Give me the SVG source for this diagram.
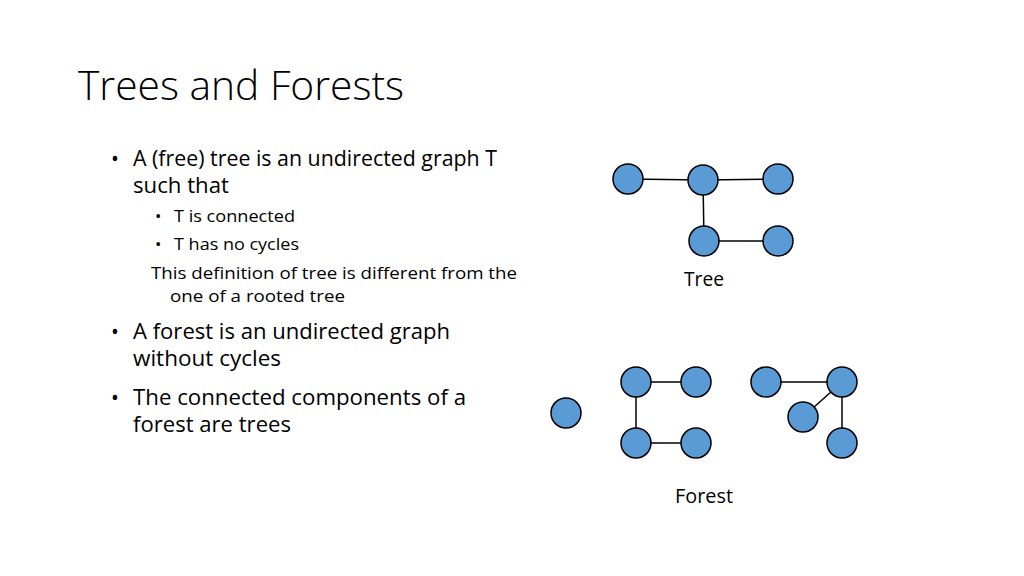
<svg xmlns="http://www.w3.org/2000/svg" width="1024" height="576" viewBox="0 0 1024 576">
<style>
text{font-family:"Open Sans","Liberation Sans",sans-serif;fill:#000}
.b{font-size:21px}.s{font-size:17px}
.n{fill:#5B9BD5;stroke:#000;stroke-width:1.5}
#edges line{stroke:#000;stroke-width:1.5}
</style>
<rect width="1024" height="576" fill="#fff"/>
<text x="78" y="100" font-size="40" font-weight="300" textLength="326" lengthAdjust="spacingAndGlyphs">Trees and Forests</text>
<text class="b" x="111" y="166">•</text>
<text class="b" x="133" y="166" textLength="364" lengthAdjust="spacingAndGlyphs">A (free) tree is an undirected graph T</text>
<text class="b" x="133" y="193" textLength="96" lengthAdjust="spacingAndGlyphs">such that</text>
<text class="s" x="155" y="222">•</text>
<text class="s" x="174" y="222" textLength="121" lengthAdjust="spacingAndGlyphs">T is connected</text>
<text class="s" x="155" y="250">•</text>
<text class="s" x="174" y="250" textLength="125" lengthAdjust="spacingAndGlyphs">T has no cycles</text>
<text class="s" x="151" y="279" textLength="366" lengthAdjust="spacingAndGlyphs">This definition of tree is different from the</text>
<text class="s" x="170" y="302" textLength="175" lengthAdjust="spacingAndGlyphs">one of a rooted tree</text>
<text class="b" x="111" y="339">•</text>
<text class="b" x="133" y="339" textLength="317" lengthAdjust="spacingAndGlyphs">A forest is an undirected graph</text>
<text class="b" x="133" y="366" textLength="148" lengthAdjust="spacingAndGlyphs">without cycles</text>
<text class="b" x="111" y="405">•</text>
<text class="b" x="133" y="405" textLength="333" lengthAdjust="spacingAndGlyphs">The connected components of a</text>
<text class="b" x="133" y="432" textLength="158" lengthAdjust="spacingAndGlyphs">forest are trees</text>
<text x="684" y="286" font-size="20" textLength="40" lengthAdjust="spacingAndGlyphs">Tree</text>
<text x="675" y="503" font-size="20" textLength="58" lengthAdjust="spacingAndGlyphs">Forest</text>
<g id="edges">
<line x1="628" y1="179" x2="703" y2="180"/><line x1="703" y1="180" x2="778" y2="179"/>
<line x1="703" y1="180" x2="704" y2="241"/><line x1="704" y1="241" x2="778" y2="241"/>
<line x1="636" y1="382" x2="696" y2="382"/><line x1="636" y1="382" x2="636" y2="443"/>
<line x1="636" y1="443" x2="696" y2="443"/>
<line x1="766" y1="382" x2="842" y2="382"/><line x1="842" y1="382" x2="842" y2="443"/>
<line x1="842" y1="382" x2="803" y2="417"/>
</g>
<g id="t1"><circle class="n" cx="628" cy="179" r="15"/></g>
<g id="t2"><circle class="n" cx="703" cy="180" r="15"/></g>
<g id="t3"><circle class="n" cx="778" cy="179" r="15"/></g>
<g id="t4"><circle class="n" cx="704" cy="241" r="15"/></g>
<g id="t5"><circle class="n" cx="778" cy="241" r="15"/></g>
<g id="f1"><circle class="n" cx="566" cy="413" r="15"/></g>
<g id="f2"><circle class="n" cx="636" cy="382" r="15"/></g>
<g id="f3"><circle class="n" cx="696" cy="382" r="15"/></g>
<g id="f4"><circle class="n" cx="636" cy="443" r="15"/></g>
<g id="f5"><circle class="n" cx="696" cy="443" r="15"/></g>
<g id="f6"><circle class="n" cx="766" cy="382" r="15"/></g>
<g id="f7"><circle class="n" cx="842" cy="382" r="15"/></g>
<g id="f8"><circle class="n" cx="803" cy="417" r="15"/></g>
<g id="f9"><circle class="n" cx="842" cy="443" r="15"/></g>
</svg>
